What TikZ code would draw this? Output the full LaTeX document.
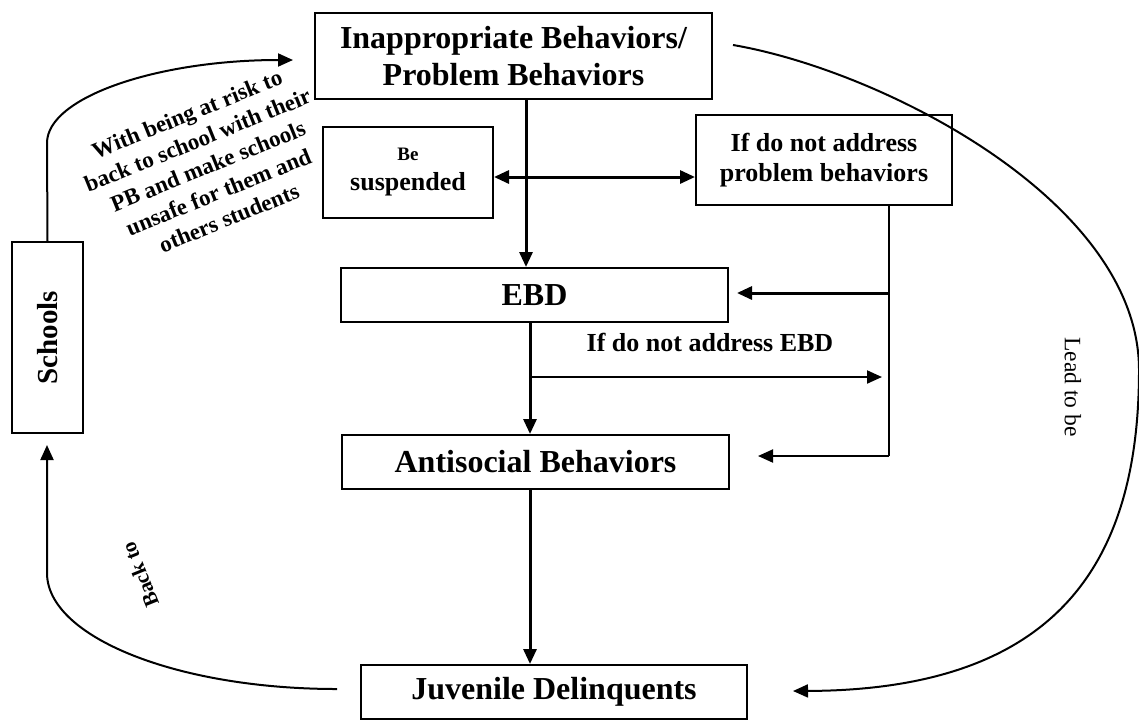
\documentclass[tikz,border=0pt]{standalone}
\usepackage{fontspec}
\setmainfont{Liberation Serif}
\usetikzlibrary{arrows.meta}
\begin{document}
\begin{tikzpicture}[x=1pt,y=-1pt,
  box/.style={draw, line width=2pt, inner sep=0pt, align=center},
  big/.style={font=\bfseries\fontsize{32}{37}\selectfont},
  mid/.style={font=\bfseries\fontsize{26}{30}\selectfont},
  arr/.style={-{Triangle[length=15pt,width=13pt]}},
  thickln/.style={line width=3pt},
  thinln/.style={line width=2pt},
  curve/.style={line width=2pt}]
\useasboundingbox (0,0) rectangle (1139,721);

% boxes
\node[box,big,minimum width=397pt,minimum height=86pt] (ib) at (513.5,56) {Inappropriate Behaviors/\\Problem Behaviors};
\node[box,mid,minimum width=170pt,minimum height=91pt] (susp) at (408,172.5) {{\fontsize{19}{22}\selectfont Be}\\suspended};
\node[box,mid,minimum width=256pt,minimum height=90pt] (prob) at (824,160) {If do not address\\problem behaviors};
\node[box,big,minimum width=387pt,minimum height=54pt] (ebd) at (534.5,295) {EBD};
\node[box,big,minimum width=387pt,minimum height=54pt] (anti) at (535.5,462) {Antisocial Behaviors};
\node[box,big,minimum width=386pt,minimum height=54pt] (jd) at (554,692) {Juvenile Delinquents};
\node[box,rotate=90,font=\bfseries\fontsize{29}{34}\selectfont,minimum width=191pt,minimum height=71pt] (sch) at (47.5,337.5) {Schools};

% labels
\node[mid] (ebdlab) at (710,342) {If do not address EBD};
\node[rotate=22,align=center,font=\bfseries\fontsize{23}{28}\selectfont] (risk) at (208,166) {With being at risk to\\back to school with their\\PB and make schools\\unsafe for them and\\others students};
\node[rotate=-90,font=\fontsize{23.5}{28}\selectfont] (lead) at (1073,387) {Lead to be};
\node[rotate=112,font=\bfseries\fontsize{21}{25}\selectfont] (back) at (140,575) {Back to};

% helper coordinates
\coordinate (v1) at (526,0);
\coordinate (h1) at (526,177);
\coordinate (v2) at (530,0);
\coordinate (b1) at (530,377);
\coordinate (b1e) at (882,377);
\coordinate (v3) at (889,0);
\coordinate (r1) at (889,293);
\coordinate (r2) at (889,456);
\coordinate (t1) at (737,293);
\coordinate (t2) at (758,456);
\coordinate (c1) at (293,60);
\coordinate (c2) at (337,689);
\coordinate (c3) at (47,445);
\coordinate (c4) at (733,45);
\coordinate (c5) at (793,691);

% connectors
\draw[thickln,arr] (ib.south -| v1) -- (ebd.north -| v1);
\draw[thickln,arr] (h1) -- (susp.east |- h1);
\draw[thickln,arr] (h1) -- (prob.west |- h1);
\draw[thickln,arr] (ebd.south -| v2) -- (anti.north -| v2);
\draw[thinln,arr] (b1) -- (b1e);
\draw[thickln,arr] (anti.south -| v2) -- (jd.north -| v2);
\draw[thinln] (prob.south -| v3) -- (r2);
\draw[thickln,arr] (r1) -- (t1);
\draw[thinln,arr] (r2) -- (t2);

\draw[curve,arr] (sch.east) -- (47,143) .. controls (47,97) and (158,60) .. (c1);
\draw[curve,arr] (c2) .. controls (177,689) and (47,637) .. (47,573) -- (c3);
\draw[curve,arr] (c4) .. controls (880,70) and (1139,200) .. (1139,370) .. controls (1139,560) and (1060,690) .. (c5);
\end{tikzpicture}
\end{document}
